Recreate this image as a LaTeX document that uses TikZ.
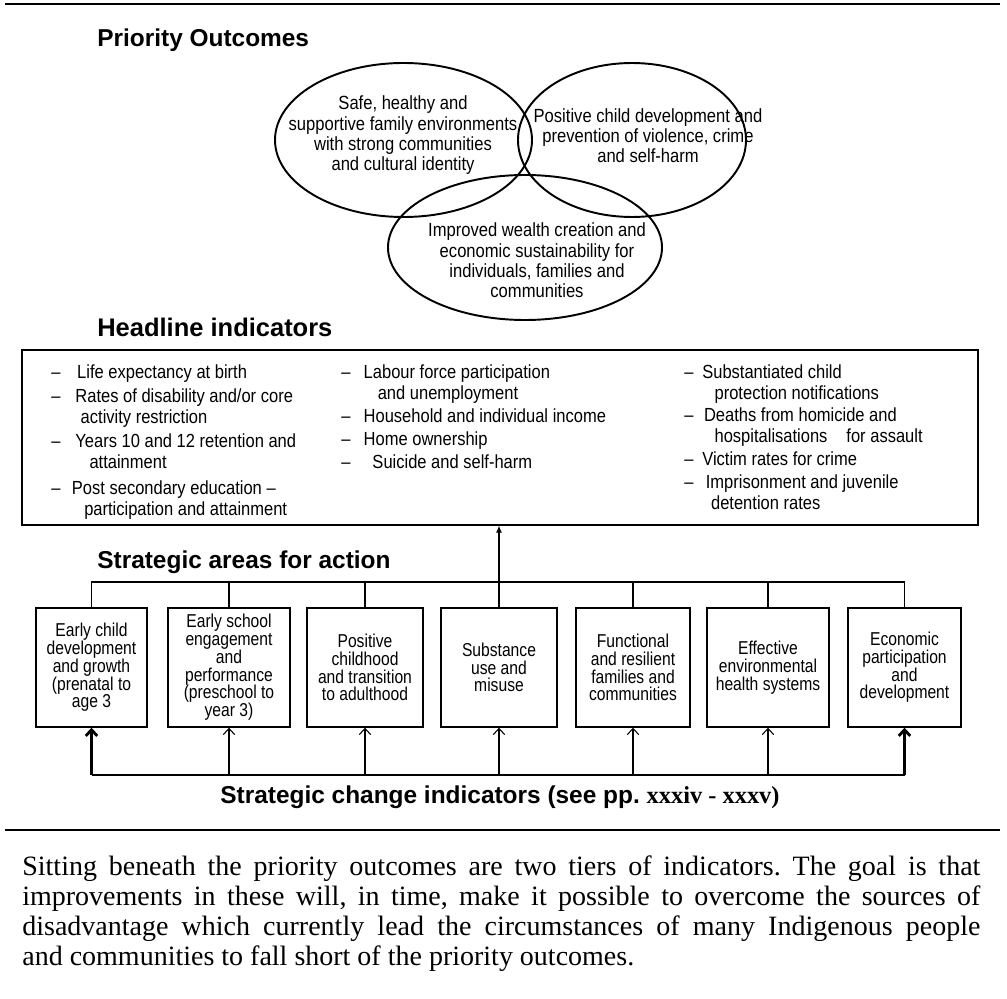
\documentclass[tikz,border=0pt]{standalone}
\usepackage{fontspec}
\setmainfont{Liberation Serif}
\setsansfont{Liberation Sans}
\newfontfamily\areafont{Liberation Sans}[FakeStretch=0.84, Ligatures=TeX]
\newfontfamily\outfont{Liberation Sans}[FakeStretch=0.87, Ligatures=TeX]
\newfontfamily\listfont{Liberation Sans}[FakeStretch=0.87, Ligatures=TeX]
\usetikzlibrary{backgrounds,arrows.meta}
\frenchspacing

\tikzset{
  outcome/.style={draw=black, line width=1.1pt},
  outtext/.style={align=center, inner sep=0pt, font=\outfont\fontsize{10.85}{11.55}\selectfont},
  heading/.style={anchor=west, inner sep=0pt, font=\sffamily\bfseries\fontsize{13.9}{16}\selectfont},
  areabox/.style={draw=black, line width=0.8pt, minimum height=2.38cm, align=center, inner sep=0pt,
    font=\areafont\fontsize{10.6}{10.1}\selectfont},
  listcol/.style={anchor=base west, inner sep=0pt, font=\listfont\fontsize{10.8}{11.95}\selectfont},
  uparrow/.style={-{Straight Barb[length=3.5pt,width=6.5pt]}, line width=0.6pt},
  busthick/.style={line width=1.6pt},
  para/.style={anchor=north west, inner sep=0pt, text width=19.16cm, align=justify,
    font=\rmfamily\fontsize{15.93}{17.07}\selectfont},
}

\begin{document}
\begin{tikzpicture}
    % white background
    \begin{scope}[on background layer]
        \fill [white] (0,0) rectangle (20.14,-19.98);
    \end{scope}

    % rules
    \draw[line width=1.7pt] (0.1,-0.08) -- (20.0,-0.08);
    \draw[line width=1.7pt] (0.1,-16.60) -- (20.0,-16.60);

    % priority outcomes
    \node[heading] (tpo) at (1.94,-0.80) {Priority Outcomes};
    \draw[outcome] (8.07,-2.80) ellipse [x radius=2.57, y radius=1.54];
    \draw[outcome] (12.64,-2.80) ellipse [x radius=2.28, y radius=1.54];
    \draw[outcome] (10.50,-4.95) ellipse [x radius=2.74, y radius=1.45];
    \node[outtext] (po1) at (8.06,-2.71) {Safe, healthy and\\supportive family environments\\with strong communities\\and cultural identity};
    \node[outtext] (po2) at (12.96,-2.71) {Positive child development and\\prevention of violence, crime\\and self-harm};
    \node[outtext] (po3) at (10.74,-5.21) {Improved wealth creation and\\economic sustainability for\\individuals, families and\\communities};

    % headline indicators
    \node[heading, font=\sffamily\bfseries\fontsize{14.5}{16}\selectfont] (thl) at (1.94,-6.54) {Headline indicators};
    \node[draw, line width=0.8pt, minimum width=19.12cm, minimum height=3.5cm, inner sep=0pt] (hl) at (10.0,-8.75) {};
    \node[listcol] (hl1) at (1.02,-7.58) {\begin{tabular}[t]{@{}l@{\hspace{8.5pt}}l@{}}
        -- & \hspace*{1pt}Life expectancy at birth\\[1.7pt]
        -- & Rates of disability and/or core\\
           & \hspace*{3pt}activity restriction\\[1.7pt]
        -- & Years 10 and 12 retention and\\
           & \hspace*{8pt}attainment\\[2.5pt]
        -- & \hspace*{-2pt}Post secondary education --\\
           & \hspace*{5pt}participation and attainment
      \end{tabular}};
    \node[listcol] (hl2) at (6.82,-7.58) {\begin{tabular}[t]{@{}l@{\hspace{7.5pt}}l@{}}
        -- & Labour force participation\\
           & \hspace*{8pt}and unemployment\\[1pt]
        -- & Household and individual income\\[1pt]
        -- & Home ownership\\[1pt]
        -- & \hspace*{5pt}Suicide and self-harm
      \end{tabular}};
    \node[listcol] (hl3) at (13.68,-7.58) {\begin{tabular}[t]{@{}l@{\hspace{5pt}}l@{}}
        -- & Substantiated child\\
           & \hspace*{7pt}protection notifications\\[0.5pt]
        -- & \hspace*{1pt}Deaths from homicide and\\
           & \hspace*{7pt}hospitalisations\quad for assault\\[1pt]
        -- & Victim rates for crime\\[1pt]
        -- & \hspace*{2pt}Imprisonment and juvenile\\
           & \hspace*{5pt}detention rates
      \end{tabular}};

    % strategic areas for action
    \node[heading] (tsa) at (1.94,-11.24) {Strategic areas for action};
    \node[areabox, minimum width=2.22cm] (a1) at (1.83,-13.35) {Early child\\development\\and growth\\(prenatal to\\age 3};
    \node[areabox, minimum width=2.44cm] (a2) at (4.58,-13.35) {Early school\\engagement\\and\\performance\\(preschool to\\year 3)};
    \node[areabox, minimum width=2.32cm] (a3) at (7.30,-13.35) {Positive\\childhood\\and transition\\to adulthood};
    \node[areabox, minimum width=2.32cm] (a4) at (9.98,-13.35) {Substance\\use and\\misuse};
    \node[areabox, minimum width=2.28cm] (a5) at (12.66,-13.35) {Functional\\and resilient\\families and\\communities};
    \node[areabox, minimum width=2.44cm] (a6) at (15.36,-13.35) {Effective\\environmental\\health systems};
    \node[areabox, minimum width=2.26cm] (a7) at (18.09,-13.35) {Economic\\participation\\and\\development};

    % links to headline indicators
    \coordinate (tbus) at (0,-11.64);
    \draw[line width=0.6pt] (a1.north) |- (a7.north |- tbus) -- (a7.north);
    \foreach \i in {2,3,5,6}
        \draw[line width=0.6pt] (a\i.north) -- (a\i.north |- tbus);
    \draw[line width=0.6pt, -{Latex[length=4pt,width=3.5pt]}] (a4.north) -- (a4.north |- hl.south);

    % strategic change indicators
    \coordinate (cbus) at (0,-15.50);
    \draw[line width=0.6pt] (a1.south |- cbus) -- (a4.south |- cbus);
    \draw[busthick] (a4.south |- cbus) -- (a7.south |- cbus);
    \draw[uparrow, busthick] (a1.south |- cbus) -- (a1.south);
    \draw[uparrow, busthick] (a7.south |- cbus) -- (a7.south);
    \foreach \i in {2,...,6}
        \draw[uparrow] (a\i.south |- cbus) -- (a\i.south);
    \node[heading, anchor=center] (tsc) at (10.0,-15.94) {Strategic change indicators (see pp. {\rmfamily xxxiv - xxxv)}};

    % text below
    \node[para] (note) at (0.44,-17.11) {Sitting beneath the priority outcomes are two tiers of indicators. The goal is that\linebreak
        improvements in these will, in time, make it possible to overcome the sources of\linebreak
        disadvantage which currently lead the circumstances of many Indigenous people\linebreak
        and communities to fall short of the priority outcomes.};
\end{tikzpicture}
\end{document}
